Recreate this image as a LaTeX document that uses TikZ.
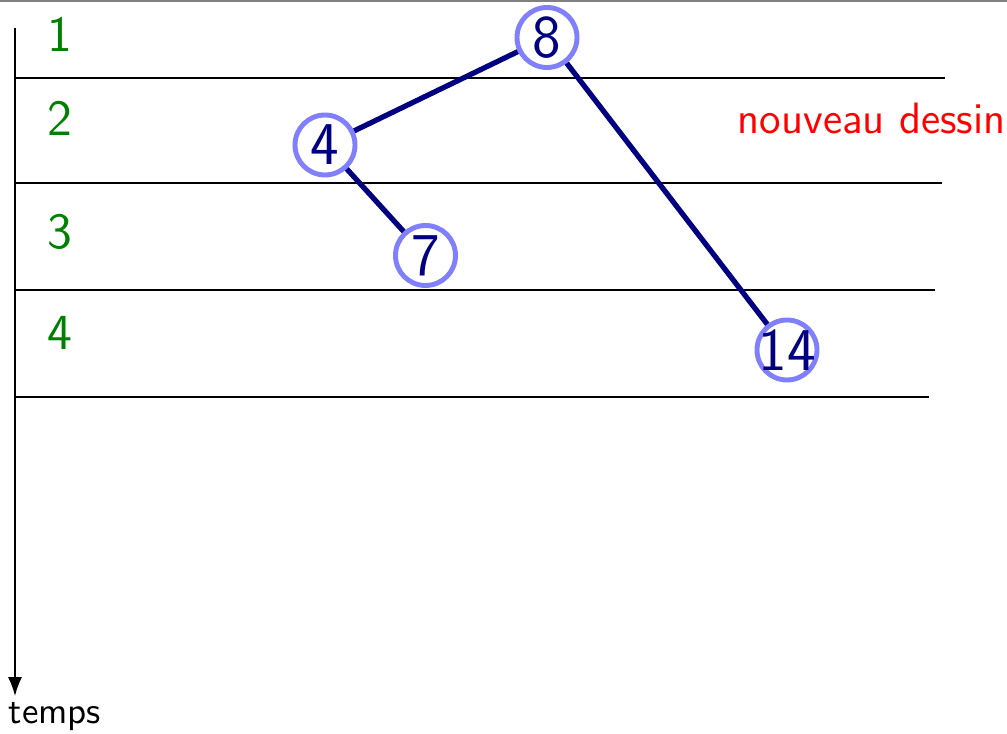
\documentclass[tikz,border=0pt]{standalone}
\usepackage{amsmath,amssymb}
\usetikzlibrary{arrows.meta,positioning}

\begin{document}
\begin{tikzpicture}[x=1cm,y=1cm,font=\sffamily]
\tikzset{
  treenode/.style={circle,draw=blue!50,line width=1.4pt,minimum size=6mm,inner sep=-1.5pt,text=blue!50!black,font=\sffamily\LARGE},
  treeedge/.style={blue!50!black,line width=1.5pt},
  steplabel/.style={text=green!50!black,font=\sffamily\Large,anchor=base,inner sep=0pt},
  stepline/.style={line width=0.4pt},
  timeaxis/.style={-{Latex[length=5.4pt,width=4pt]},line width=0.4pt}
}
\useasboundingbox (0,0) rectangle (10.07,-7.34);
\draw[gray,line width=0.6pt] (0,-0.01) -- (10.07,-0.01);
% time axis
\coordinate (t_top) at (0.15,-0.28);
\coordinate (t_bot) at (0.15,-6.96);
\draw[timeaxis] (t_top) -- (t_bot);
\node[anchor=base west,inner sep=0pt,font=\sffamily\fontsize{10.5}{12}\selectfont] (temps) at (0.08,-7.24) {temps};
% steps
\draw[stepline] (0.15,-0.78) -- (9.45,-0.78);
\draw[stepline] (0.15,-1.83) -- (9.42,-1.83);
\draw[stepline] (0.15,-2.90) -- (9.35,-2.90);
\draw[stepline] (0.15,-3.97) -- (9.29,-3.97);
\node[steplabel] (s1) at (0.60,-0.52) {1};
\node[steplabel] (s2) at (0.60,-1.36) {2};
\node[steplabel] (s3) at (0.60,-2.49) {3};
\node[steplabel] (s4) at (0.60,-3.50) {4};
\node[anchor=base west,inner sep=0pt,text=red,font=\sffamily\fontsize{12.5}{15}\selectfont] (nouv) at (7.37,-1.34) {nouveau dessin};
% tree
\node[treenode] (n_8) at (5.47,-0.375) {8};
\node[treenode] (n_4) at (3.25,-1.45) {4};
\node[treenode] (n_7) at (4.255,-2.555) {7};
\node[treenode] (n_14) at (7.87,-3.50) {14};
\draw[treeedge] (n_8) -- (n_4);
\draw[treeedge] (n_4) -- (n_7);
\draw[treeedge] (n_8) -- (n_14);
\end{tikzpicture}
\end{document}
